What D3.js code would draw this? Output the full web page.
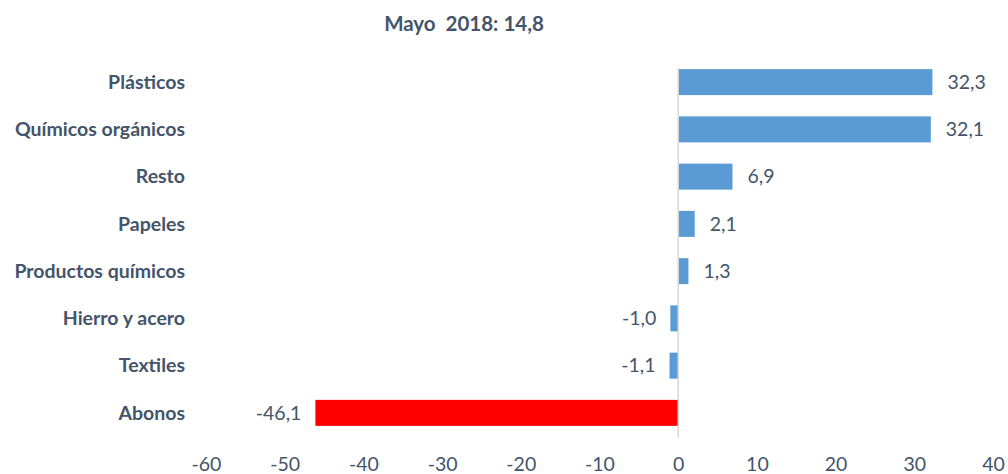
<!DOCTYPE html>
<html>
<head>
<meta charset="utf-8">
<script src="https://cdn.jsdelivr.net/npm/d3@7"></script>
<style>
body { margin: 0; background: #fff; }
text { font-family: "Lato", "Open Sans", sans-serif; fill: #44546A; }
</style>
</head>
<body>
<script>
var w = 1008;
var h = 474;

// data
var categories = ["Plásticos", "Químicos orgánicos", "Resto", "Papeles", "Productos químicos", "Hierro y acero", "Textiles", "Abonos"];
var values = [32.3, 32.1, 6.9, 2.1, 1.3, -1.0, -1.1, -46.1];
var ticks = [-60, -50, -40, -30, -20, -10, 0, 10, 20, 30, 40];
var title = "Mayo  2018: 14,8";

var svg = d3.select("body")
            .append("svg")
            .attr("width", w)
            .attr("height", h);

var xScale = d3.scaleLinear()
               .domain([-60, 40])
               .range([206, 993]);

var yScale = d3.scaleBand()
               .domain(categories)
               .range([58.5, 436.5])
               .paddingInner(0.45)
               .paddingOuter(0.225);

var fmt = function (d) { return d3.format(".1f")(d).replace(".", ",").replace("−", "-"); };

// title
svg.append("text")
   .attr("x", 464)
   .attr("y", 24)
   .attr("dy", "0.35em")
   .attr("text-anchor", "middle")
   .style("font-size", "20.5px")
   .style("font-weight", "bold")
   .style("white-space", "pre")
   .text(title);

// bars
svg.selectAll("rect.bar")
   .data(values)
   .enter()
   .append("rect")
   .attr("class", "bar")
   .attr("x", function (d) { return xScale(Math.min(0, d)); })
   .attr("y", function (d, i) { return yScale(categories[i]); })
   .attr("width", function (d) { return Math.abs(xScale(d) - xScale(0)); })
   .attr("height", yScale.bandwidth())
   .style("fill", function (d, i) { return i === values.length - 1 ? "#FF0000" : "#5B9BD5"; });

// zero line
svg.append("line")
   .attr("x1", xScale(0)).attr("x2", xScale(0))
   .attr("y1", 68).attr("y2", 437)
   .style("stroke", "#D9D9D9")
   .style("stroke-width", 1.5);

// value labels
svg.selectAll("text.val")
   .data(values)
   .enter()
   .append("text")
   .attr("class", "val")
   .attr("x", function (d) { return d >= 0 ? xScale(d) + 15 : xScale(d) - 14; })
   .attr("y", function (d, i) { return yScale(categories[i]) + yScale.bandwidth() / 2; })
   .attr("dy", "0.35em")
   .attr("text-anchor", function (d) { return d >= 0 ? "start" : "end"; })
   .style("font-size", "19.5px")
   .text(fmt);

// category labels
svg.selectAll("text.cat")
   .data(categories)
   .enter()
   .append("text")
   .attr("class", "cat")
   .attr("x", 185)
   .attr("y", function (d) { return yScale(d) + yScale.bandwidth() / 2; })
   .attr("dy", "0.35em")
   .attr("text-anchor", "end")
   .style("font-size", "19.5px")
   .style("font-weight", "bold")
   .text(function (d) { return d; });

// x axis
var xAxis = d3.axisBottom(xScale)
              .tickValues(ticks)
              .tickSize(0)
              .tickPadding(0)
              .tickFormat(function (d) { return String(d); });

var gx = svg.append("g")
   .attr("transform", "translate(0,457)")
   .call(xAxis);
gx.select(".domain").remove();
gx.selectAll("text")
  .style("font-size", "19.5px")
  .style("fill", "#44546A")
  .style("font-family", "Lato, 'Open Sans', sans-serif");
</script>
</body>
</html>
